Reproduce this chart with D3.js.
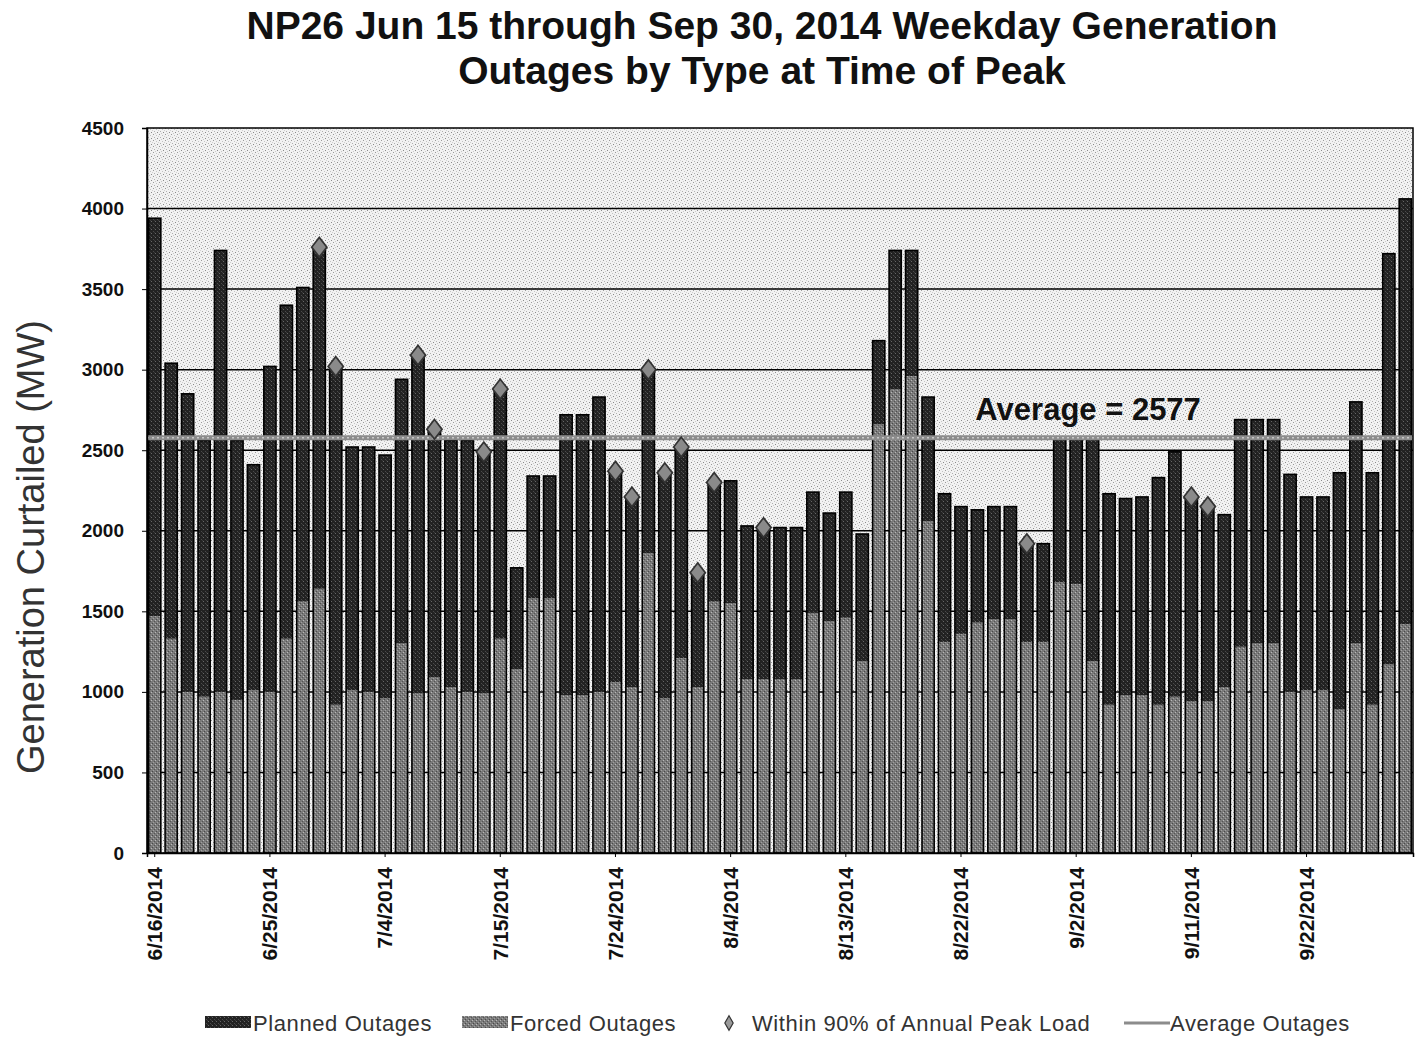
<!DOCTYPE html>
<html>
<head>
<meta charset="utf-8">
<script src="https://cdn.jsdelivr.net/npm/d3@7"></script>
<style>
  body { margin: 0; background: #fff; }
  svg { display: block; font-family: Arial, "Liberation Sans", sans-serif; }
</style>
</head>
<body>
<div id="chart"></div>
<script>
// weekday dates shown on the x axis
var dates = [
  "6/16/2014","6/17/2014","6/18/2014","6/19/2014","6/20/2014",
  "6/23/2014","6/24/2014","6/25/2014","6/26/2014","6/27/2014",
  "6/30/2014","7/1/2014","7/2/2014","7/3/2014","7/4/2014",
  "7/7/2014","7/8/2014","7/9/2014","7/10/2014","7/11/2014",
  "7/14/2014","7/15/2014","7/16/2014","7/17/2014","7/18/2014",
  "7/21/2014","7/22/2014","7/23/2014","7/24/2014","7/25/2014",
  "7/28/2014","7/29/2014","7/30/2014","7/31/2014","8/1/2014",
  "8/4/2014","8/5/2014","8/6/2014","8/7/2014","8/8/2014",
  "8/11/2014","8/12/2014","8/13/2014","8/14/2014","8/15/2014",
  "8/18/2014","8/19/2014","8/20/2014","8/21/2014","8/22/2014",
  "8/25/2014","8/26/2014","8/27/2014","8/28/2014","8/29/2014",
  "9/1/2014","9/2/2014","9/3/2014","9/4/2014","9/5/2014",
  "9/8/2014","9/9/2014","9/10/2014","9/11/2014","9/12/2014",
  "9/15/2014","9/16/2014","9/17/2014","9/18/2014","9/19/2014",
  "9/22/2014","9/23/2014","9/24/2014","9/25/2014","9/26/2014",
  "9/29/2014","9/30/2014"
];

// forced outages (MW), bottom segment
var forced = [
  1470,1330,1000,970,1000, 950,1010,1000,1330,1560,
  1640,920,1010,1000,960, 1300,990,1090,1030,1000,
  990,1330,1140,1580,1580, 980,980,1000,1060,1030,
  1860,960,1210,1030,1560, 1550,1080,1080,1080,1080,
  1490,1440,1460,1190,2660, 2880,2960,2060,1310,1360,
  1430,1450,1450,1310,1310, 1680,1670,1190,920,980,
  980,920,970,940,940, 1030,1280,1300,1300,1000,
  1010,1010,890,1300,920, 1170,1420
];

// planned outages (MW), stacked on top
var planned = [
  2470,1710,1850,1590,2740, 1610,1400,2020,2070,1950,
  2120,2100,1510,1520,1510, 1640,2100,1540,1530,1560,
  1500,1550,630,760,760, 1740,1740,1830,1310,1180,
  1140,1400,1310,710,740, 760,950,940,940,940,
  750,670,780,790,520, 860,780,770,920,790,
  700,700,700,610,610, 890,900,1380,1310,1220,
  1230,1410,1520,1270,1210, 1070,1410,1390,1390,1350,
  1200,1200,1470,1500,1440, 2550,2640
];

// days within 90% of annual peak load
var peakDays = [
  "6/30/2014","7/1/2014","7/8/2014","7/9/2014","7/14/2014","7/15/2014",
  "7/24/2014","7/25/2014","7/28/2014","7/29/2014","7/30/2014","7/31/2014",
  "8/1/2014","8/6/2014","8/28/2014","9/11/2014","9/12/2014"
];

var averageOutage = 2577;
var yTicks = [0, 500, 1000, 1500, 2000, 2500, 3000, 3500, 4000, 4500];
var labelEvery = 7;

var width = 1416, height = 1038;
var margin = {top: 128, right: 3, bottom: 185, left: 147};
var plotW = width - margin.left - margin.right;
var plotH = height - margin.top - margin.bottom;

var rows = dates.map(function (d, i) {
  return {date: d, forced: forced[i], planned: planned[i], total: forced[i] + planned[i]};
});

var svg = d3.select("#chart").append("svg")
  .attr("width", width)
  .attr("height", height);

var defs = svg.append("defs");

// stippled background like the printed original
var bg = defs.append("pattern")
  .attr("id", "stipple")
  .attr("patternUnits", "userSpaceOnUse")
  .attr("width", 6).attr("height", 6);
bg.append("rect").attr("width", 6).attr("height", 6).attr("fill", "#f2f2f2");
[[0,0,"#9a9a9a"],[3,1,"#c4c4c4"],[1,3,"#b0b0b0"],[4,4,"#8a8a8a"],[5,2,"#d0d0d0"],[2,5,"#c8c8c8"]].forEach(function (p) {
  bg.append("rect").attr("x", p[0]).attr("y", p[1]).attr("width", 1).attr("height", 1).attr("fill", p[2]);
});

var dark = defs.append("pattern")
  .attr("id", "plannedFill")
  .attr("patternUnits", "userSpaceOnUse")
  .attr("width", 4).attr("height", 4);
dark.append("rect").attr("width", 4).attr("height", 4).attr("fill", "#222");
[[0,1,"#666"],[2,3,"#4a4a4a"],[3,0,"#3c3c3c"]].forEach(function (p) {
  dark.append("rect").attr("x", p[0]).attr("y", p[1]).attr("width", 1).attr("height", 1).attr("fill", p[2]);
});

var grey = defs.append("pattern")
  .attr("id", "forcedFill")
  .attr("patternUnits", "userSpaceOnUse")
  .attr("width", 4).attr("height", 4);
grey.append("rect").attr("width", 4).attr("height", 4).attr("fill", "#7a7a7a");
[[0,0,"#b8b8b8"],[2,2,"#a0a0a0"],[1,3,"#4a4a4a"],[3,1,"#555"]].forEach(function (p) {
  grey.append("rect").attr("x", p[0]).attr("y", p[1]).attr("width", 1).attr("height", 1).attr("fill", p[2]);
});

var g = svg.append("g").attr("transform", "translate(" + margin.left + "," + margin.top + ")");

var x = d3.scaleBand().domain(dates).range([0, plotW]).paddingInner(0.26).paddingOuter(0.1);
var y = d3.scaleLinear().domain([0, 4500]).range([plotH, 0]);

g.append("rect")
  .attr("width", plotW).attr("height", plotH)
  .attr("fill", "url(#stipple)");

// horizontal gridlines
g.append("g").selectAll("line")
  .data(yTicks.filter(function (t) { return t > 0 && t < 4500; }))
  .join("line")
  .attr("x1", 0).attr("x2", plotW)
  .attr("y1", function (d) { return y(d); })
  .attr("y2", function (d) { return y(d); })
  .attr("stroke", "#000").attr("stroke-width", 1.5);

// stacked bars
var stack = d3.stack().keys(["forced", "planned"])(rows);
var fills = {forced: "url(#forcedFill)", planned: "url(#plannedFill)"};

g.append("g").selectAll("g")
  .data(stack)
  .join("g")
  .attr("fill", function (s) { return fills[s.key]; })
  .selectAll("rect")
  .data(function (s) { return s; })
  .join("rect")
  .attr("x", function (d) { return x(d.data.date); })
  .attr("width", x.bandwidth())
  .attr("y", function (d) { return y(d[1]); })
  .attr("height", function (d) { return y(d[0]) - y(d[1]); });

// bar outlines
g.append("g").selectAll("rect")
  .data(rows)
  .join("rect")
  .attr("x", function (d) { return x(d.date); })
  .attr("width", x.bandwidth())
  .attr("y", function (d) { return y(d.total); })
  .attr("height", function (d) { return y(0) - y(d.total); })
  .attr("fill", "none")
  .attr("stroke", "#000")
  .attr("stroke-width", 1.6);

// average line
g.append("line")
  .attr("x1", 0).attr("x2", plotW)
  .attr("y1", y(averageOutage)).attr("y2", y(averageOutage))
  .attr("stroke", "#8c8c8c").attr("stroke-width", 5);
g.append("line")
  .attr("x1", 0).attr("x2", plotW)
  .attr("y1", y(averageOutage)).attr("y2", y(averageOutage))
  .attr("stroke", "#c8c8c8").attr("stroke-width", 1.5)
  .attr("stroke-dasharray", "2,3");

g.append("text")
  .attr("x", x("8/25/2014") + 4)
  .attr("y", y(averageOutage) - 18)
  .attr("font-size", 31).attr("font-weight", "bold")
  .attr("fill", "#111")
  .text("Average = " + averageOutage);

// peak-load diamonds
var diamond = d3.symbol().type(d3.symbolDiamond).size(110);
g.append("g").selectAll("path")
  .data(rows.filter(function (d) { return peakDays.indexOf(d.date) >= 0; }))
  .join("path")
  .attr("d", diamond)
  .attr("transform", function (d) {
    return "translate(" + (x(d.date) + x.bandwidth() / 2) + "," + y(d.total) + ") scale(1.35,1)";
  })
  .attr("fill", "#8a8a8a")
  .attr("stroke", "#333")
  .attr("stroke-width", 1.4);

// frame
g.append("rect")
  .attr("width", plotW).attr("height", plotH)
  .attr("fill", "none").attr("stroke", "#000").attr("stroke-width", 1.5);

// y axis
var yAxis = g.append("g")
  .call(d3.axisLeft(y).tickValues(yTicks).tickFormat(d3.format("d")).tickSize(5).tickPadding(18));
yAxis.select(".domain").attr("stroke-width", 1.5);
yAxis.selectAll("text")
  .attr("font-size", 19).attr("font-weight", "bold")
  .attr("font-family", "Arial, 'Liberation Sans', sans-serif")
  .attr("fill", "#111");

// x axis
var xAxis = g.append("g")
  .attr("transform", "translate(0," + plotH + ")")
  .call(d3.axisBottom(x)
    .tickValues(dates.filter(function (d, i) { return i % labelEvery === 0; }))
    .tickSize(4).tickPadding(0));
xAxis.select(".domain").attr("stroke-width", 1.5);
xAxis.selectAll("text")
  .attr("transform", "rotate(-90)")
  .attr("x", -14).attr("y", 0).attr("dy", "0.35em")
  .attr("text-anchor", "end")
  .attr("font-size", 21).attr("font-weight", "bold")
  .attr("font-family", "Arial, 'Liberation Sans', sans-serif")
  .attr("fill", "#111");

// title
var title = svg.append("text")
  .attr("x", 762).attr("text-anchor", "middle")
  .attr("font-size", 39).attr("font-weight", "bold").attr("fill", "#111");
title.append("tspan").attr("x", 762).attr("y", 39).text("NP26 Jun 15 through Sep 30, 2014 Weekday Generation");
title.append("tspan").attr("x", 762).attr("y", 84).text("Outages by Type at Time of Peak");

// y axis label
svg.append("text")
  .attr("transform", "translate(44,547) rotate(-90)")
  .attr("text-anchor", "middle")
  .attr("font-size", 38).attr("fill", "#333")
  .text("Generation Curtailed (MW)");

// legend
var legend = svg.append("g")
  .attr("font-family", "'Liberation Sans Narrow', 'Arial Narrow', Arial, sans-serif")
  .attr("font-size", 22).attr("letter-spacing", 0.6).attr("fill", "#333");
var ly = 1023;

legend.append("rect").attr("x", 205).attr("y", ly - 7).attr("width", 46).attr("height", 12).attr("fill", "url(#plannedFill)");
legend.append("text").attr("x", 253).attr("y", ly + 8).text("Planned Outages");

legend.append("rect").attr("x", 462).attr("y", ly - 7).attr("width", 46).attr("height", 12).attr("fill", "url(#forcedFill)");
legend.append("text").attr("x", 510).attr("y", ly + 8).text("Forced Outages");

legend.append("path").attr("d", d3.symbol().type(d3.symbolDiamond).size(60))
  .attr("transform", "translate(729," + ly + ")")
  .attr("fill", "#9a9a9a").attr("stroke", "#333").attr("stroke-width", 1.2);
legend.append("text").attr("x", 752).attr("y", ly + 8).text("Within 90%  of Annual Peak Load");

legend.append("line").attr("x1", 1124).attr("x2", 1170).attr("y1", ly).attr("y2", ly)
  .attr("stroke", "#8c8c8c").attr("stroke-width", 3);
legend.append("text").attr("x", 1170).attr("y", ly + 8).text("Average Outages");
</script>
</body>
</html>
